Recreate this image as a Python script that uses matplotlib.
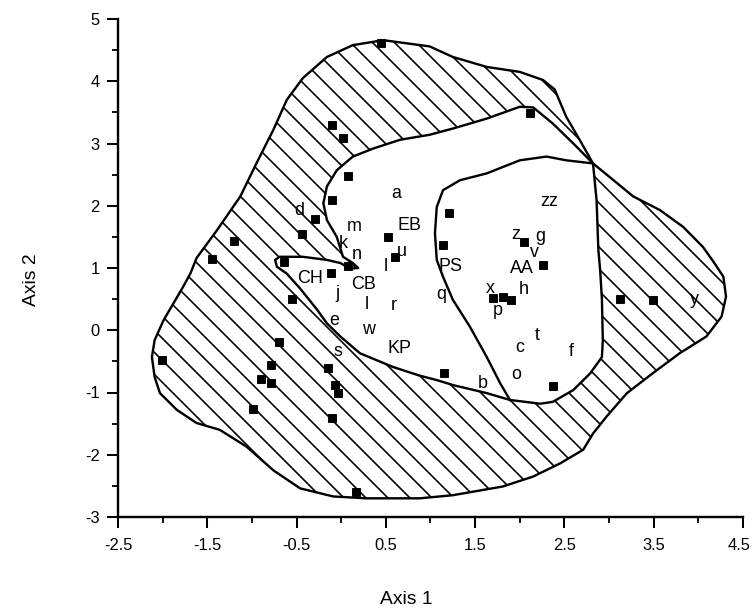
import numpy as np
import matplotlib
matplotlib.use("Agg")
import matplotlib.pyplot as plt
import matplotlib.transforms as mtrans
from matplotlib.patches import Polygon

# outer envelope (hatched), in axis units
outer_x = [0.47, 0.99, 1.25, 1.63, 2.00, 2.26, 2.39, 2.52, 2.67, 2.82, 3.05, 3.27, 3.57, 3.83,
           4.05, 4.17, 4.28, 4.31, 4.26, 4.09, 3.79, 3.49, 3.20, 2.97, 2.82, 2.71, 2.45, 2.15,
           1.81, 1.25, 0.88, 0.28, -0.09, -0.46, -0.76, -1.06, -1.36, -1.62, -1.84, -2.03,
           -2.09, -2.12, -2.09, -1.99, -1.88, -1.77, -1.69, -1.62, -1.39, -1.13, -0.95, -0.76,
           -0.61, -0.43, -0.16, 0.13]
outer_y = [4.66, 4.56, 4.39, 4.23, 4.15, 4.02, 3.87, 3.43, 3.06, 2.68, 2.41, 2.15, 1.93, 1.66,
           1.34, 1.10, 0.86, 0.54, 0.22, -0.10, -0.37, -0.69, -1.01, -1.39, -1.66, -1.92, -2.14,
           -2.35, -2.51, -2.65, -2.70, -2.70, -2.67, -2.54, -2.25, -1.87, -1.60, -1.49, -1.28,
           -1.01, -0.75, -0.43, -0.16, 0.16, 0.43, 0.70, 0.91, 1.16, 1.61, 2.15, 2.68, 3.22,
           3.70, 4.05, 4.39, 4.58]

# open (unhatched) core with the CH lobe
inner_x = [2.82, 2.86, 2.88, 2.90, 2.92, 2.93, 2.92, 2.79, 2.60, 2.37, 2.23, 1.89, 1.63, 1.25,
           1.07, 0.88, 0.58, 0.21, -0.01, -0.16, -0.27, -0.46, -0.61, -0.72, -0.74, -0.69,
           -0.43, -0.16, -0.01, 0.10, 0.19, 0.13, 0.02, -0.05, -0.16, -0.20, -0.16, -0.05,
           0.13, 0.36, 0.66, 0.99, 1.25, 1.63, 2.00, 2.15, 2.37, 2.60]
inner_y = [2.68, 2.09, 1.29, 0.97, 0.49, -0.16, -0.43, -0.69, -0.96, -1.15, -1.18, -1.12,
           -1.01, -0.88, -0.80, -0.73, -0.59, -0.37, -0.10, 0.11, 0.33, 0.67, 0.91, 1.02, 1.13,
           1.18, 1.18, 1.13, 1.08, 0.99, 1.00, 1.08, 1.18, 1.50, 1.77, 2.04, 2.31, 2.57, 2.79,
           2.92, 3.06, 3.14, 3.24, 3.40, 3.59, 3.58, 3.32, 3.00]

# curve bounding the PS / AA group
split_x = [2.82, 2.52, 2.30, 2.00, 1.63, 1.33, 1.14, 1.07, 1.05, 1.07, 1.14, 1.25, 1.44,
           1.63, 1.78, 1.89]
split_y = [2.68, 2.73, 2.79, 2.73, 2.52, 2.41, 2.25, 1.98, 1.56, 1.13, 0.86, 0.49, 0.06,
           -0.43, -0.85, -1.12]

# site scores
site_x = [0.45, -0.10, 0.02, 0.08, -0.10, -0.29, -0.44, -1.20, -1.45, 0.52, 0.60, 2.11, 1.21,
          1.14, 2.05, -0.64, 0.08, -0.11, -0.55, -0.70, -2.01, -0.79, -0.15, -0.90, -0.79,
          -0.07, -0.04, -0.99, -0.10, 0.17, 2.26, 1.70, 1.81, 1.90, 3.12, 3.49, 1.15, 2.37]
site_y = [4.61, 3.29, 3.09, 2.47, 2.10, 1.78, 1.54, 1.43, 1.15, 1.49, 1.18, 3.49, 1.89,
          1.37, 1.41, 1.09, 1.03, 0.92, 0.51, -0.19, -0.48, -0.56, -0.60, -0.79, -0.85,
          -0.88, -1.00, -1.27, -1.41, -2.60, 1.05, 0.52, 0.54, 0.49, 0.50, 0.49, -0.69, -0.90]

# species and group labels
lab_txt = ["a", "d", "m", "EB", "k", "n", "u", "l", "CH", "CB", "j", "l", "r", "e", "w",
           "KP", "s", "PS", "q", "x", "zz", "z", "g", "v", "AA", "h", "p", "t", "c", "f",
           "o", "b", "y"]
lab_x = [0.62, -0.47, 0.15, 0.76, 0.02, 0.18, 0.68, 0.50, -0.35, 0.25, -0.04, 0.29, 0.59,
         -0.08, 0.30, 0.65, -0.04, 1.22, 1.12, 1.67, 2.33, 1.95, 2.23, 2.16, 2.02, 2.04,
         1.75, 2.20, 2.00, 2.58, 1.96, 1.59, 3.96]
lab_y = [2.20, 1.92, 1.66, 1.69, 1.40, 1.22, 1.26, 1.02, 0.83, 0.73, 0.59, 0.42, 0.39,
         0.16, 0.01, -0.29, -0.34, 1.03, 0.57, 0.67, 2.07, 1.54, 1.51, 1.25, 0.99, 0.66,
         0.31, -0.08, -0.28, -0.34, -0.71, -0.85, 0.50]

xt_major = [-2.5, -1.5, -0.5, 0.5, 1.5, 2.5, 3.5, 4.5]
xt_minor = [-2, -1, 0, 1, 2, 3, 4]
yt_major = [-3, -2, -1, 0, 1, 2, 3, 4, 5]
yt_minor = [-2.5, -1.5, -0.5, 0.5, 1.5, 2.5, 3.5, 4.5]

DPI = 66
plt.rcParams['font.family'] = ['Liberation Sans', 'DejaVu Sans']
plt.rcParams['hatch.linewidth'] = 1.8
plt.rcParams['axes.unicode_minus'] = False

fig = plt.figure(figsize=(752 / DPI, 613 / DPI), dpi=DPI)
ax = fig.add_axes([118 / 752, 1 - 517 / 613, 625 / 752, 498 / 613])

env = Polygon(np.column_stack([outer_x, outer_y]), closed=True, facecolor='white',
              edgecolor='black', hatch='\\', linewidth=2.6, joinstyle='round', zorder=1)
ax.add_patch(env)
core = Polygon(np.column_stack([inner_x, inner_y]), closed=True, facecolor='white',
               edgecolor='black', linewidth=2.6, joinstyle='round', zorder=2)
ax.add_patch(core)
ax.plot(split_x, split_y, color='black', lw=2.6, solid_joinstyle='round', zorder=3)

ax.plot(site_x, site_y, ls='none', marker='s', ms=8.5, color='black', zorder=4)

for t, x, y in zip(lab_txt, lab_x, lab_y):
    ax.text(x, y, t, ha='center', va='center', fontsize=19.5, color='black', zorder=5)

ax.set_xlim(-2.5, 4.5)
ax.set_ylim(-3, 5)
ax.set_xticks(xt_major)
ax.set_xticklabels([f"{v:g}" for v in xt_major])
ax.set_xticks(xt_minor, minor=True)
ax.set_yticks(yt_major)
ax.set_yticklabels([f"{v:g}" for v in yt_major])
ax.set_yticks(yt_minor, minor=True)

for s in ['top', 'right']:
    ax.spines[s].set_visible(False)
for s in ['left', 'bottom']:
    ax.spines[s].set_linewidth(2.6)

ax.tick_params(which='major', direction='out', length=12, width=2.2, labelsize=18)
ax.tick_params(which='minor', direction='out', length=6.5, width=2.0)
ax.tick_params(axis='x', which='major', pad=11)
ax.tick_params(axis='y', which='major', pad=8)

# keep the last x label inside the figure edge
last = ax.get_xticklabels()[-1]
last.set_horizontalalignment('right')
last.set_transform(last.get_transform() + mtrans.ScaledTranslation(8 / 72, 0, fig.dpi_scale_trans))

ax.set_xlabel("Axis 1", fontsize=21)
ax.set_ylabel("Axis 2", fontsize=21)
ax.xaxis.set_label_coords(0.462, -0.148)
ax.yaxis.set_label_coords(-0.125, 0.476)

fig.savefig("out.png", dpi=DPI, facecolor='white')
